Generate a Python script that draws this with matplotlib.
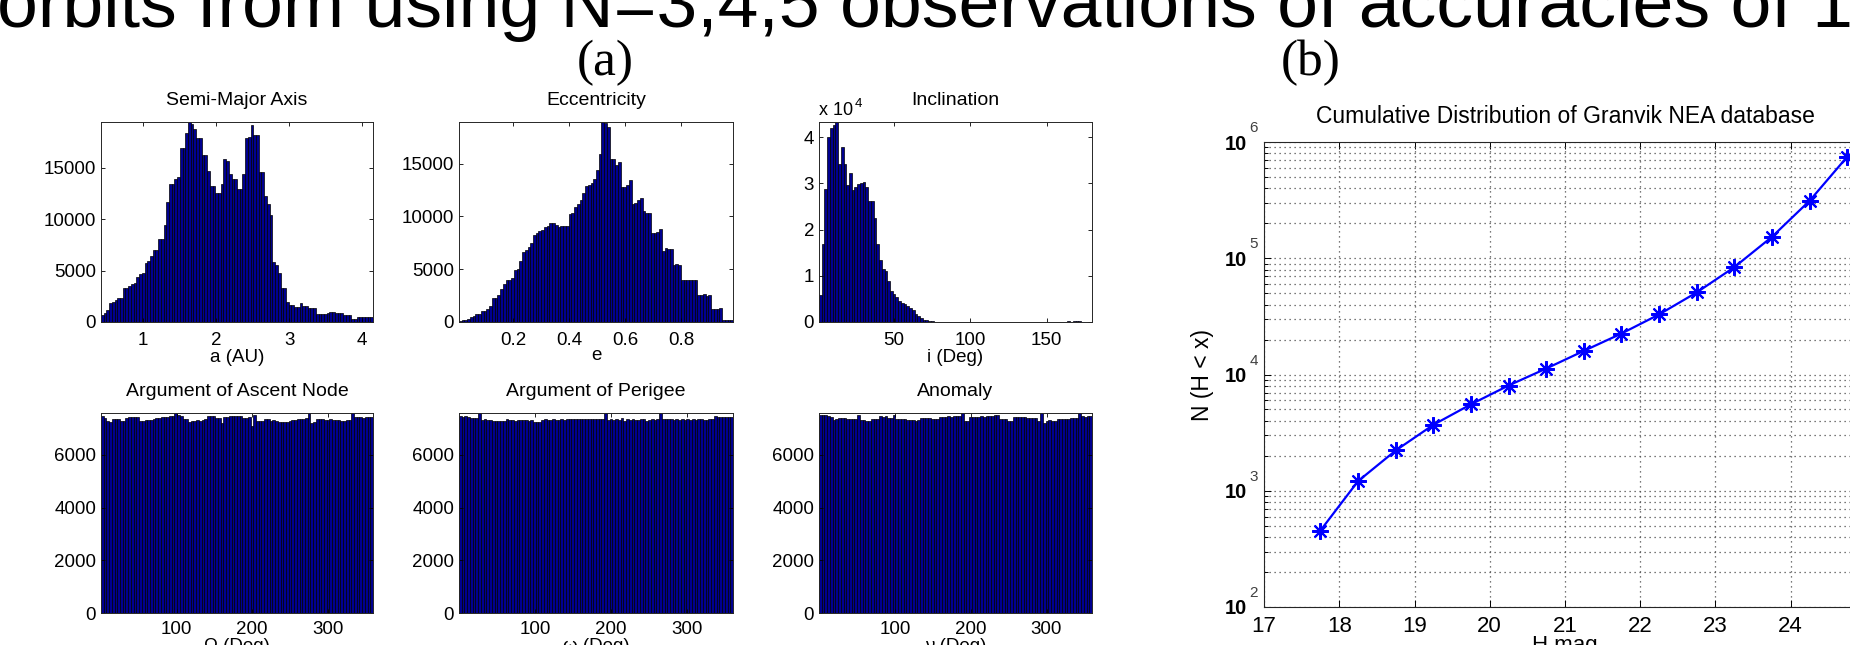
import numpy as np
import matplotlib
matplotlib.use('Agg')
import matplotlib.pyplot as plt
from matplotlib import font_manager as fm
from matplotlib.ticker import LogLocator, NullFormatter

# ---------------- data ----------------
semi_major_range = (0.42, 4.15)
semi_major_counts = [
    710, 900, 1140, 1800, 1900, 2100, 2300, 2300, 3300, 3300,
    3500, 3700, 3800, 4400, 4700, 4800, 5700, 5900, 6400, 7000,
    7000, 8100, 8100, 9400, 11700, 13400, 13400, 13900, 14100, 16900,
    16900, 18400, 19450, 19300, 18800, 17900, 17900, 16200, 16200, 14700,
    13200, 13200, 12500, 12500, 13400, 15900, 15700, 14400, 13900, 13900,
    12900, 12900, 14400, 17900, 18000, 19200, 18200, 18200, 14600, 14600,
    12300, 11500, 10400, 5800, 5500, 4800, 3300, 3300, 1900, 1700,
    1700, 1500, 1500, 1800, 1600, 1600, 1400, 1400, 1400, 780,
    780, 780, 780, 880, 940, 940, 900, 880, 880, 710,
    710, 710, 320, 320, 450, 450, 450, 450, 450, 450]

ecc_range = (0.007, 0.986)
ecc_counts = [
    60, 160, 200, 290, 440, 600, 760, 800, 1000, 1080,
    1270, 1500, 2300, 2300, 2600, 3100, 3560, 3940, 4000, 4200,
    4920, 5050, 5780, 6670, 6800, 7140, 7500, 8250, 8400, 8600,
    8730, 8950, 9100, 9330, 9330, 9200, 8950, 9050, 9050, 9050,
    10200, 10300, 10860, 11200, 11500, 12200, 12900, 13000, 13200, 13500,
    14400, 15900, 18930, 18800, 18500, 15400, 15400, 14900, 15100, 12800,
    12800, 13000, 13400, 11200, 11300, 11500, 11700, 10500, 10300, 10300,
    8400, 8400, 8500, 8800, 6730, 7050, 6900, 6900, 5400, 5460,
    5400, 3940, 3940, 3940, 3940, 3940, 3940, 2600, 2600, 2670,
    2440, 2600, 1240, 1240, 1240, 1330, 220, 220, 220, 220]

inc_range = (0.9, 179.6)
inc_counts = [
    5900, 16800, 28800, 40000, 42000, 42600, 43300, 34200, 37800, 34200,
    29700, 32200, 28600, 29300, 29800, 30000, 30400, 29300, 26300, 26300,
    22500, 16900, 13400, 11400, 11000, 8800, 6700, 6000, 5400, 4500,
    4200, 4000, 3400, 3000, 2500, 1800, 1200, 900, 500, 400,
    200, 150, 80, 50, 30, 20, 10, 10, 5, 5,
    5, 5, 3, 3, 2, 2, 2, 1, 1, 1,
    1, 1, 0, 0, 0, 0, 0, 0, 0, 0,
    0, 0, 0, 0, 0, 0, 0, 0, 0, 0,
    0, 0, 0, 0, 0, 0, 0, 0, 0, 0,
    0, 150, 0, 150, 150, 150, 0, 0, 0, 0]

angle_range = (0.0, 360.0)
node_counts = [
    7470, 7400, 7300, 7250, 7370, 7380, 7360, 7280, 7300, 7410,
    7450, 7440, 7450, 7420, 7300, 7290, 7310, 7340, 7340, 7380,
    7410, 7400, 7420, 7450, 7450, 7470, 7470, 7590, 7500, 7480,
    7370, 7370, 7250, 7300, 7290, 7310, 7300, 7340, 7350, 7470,
    7470, 7460, 7410, 7400, 7220, 7450, 7440, 7470, 7460, 7480,
    7470, 7460, 7410, 7400, 7420, 7100, 7500, 7280, 7290, 7300,
    7370, 7360, 7300, 7310, 7290, 7250, 7260, 7240, 7250, 7270,
    7310, 7320, 7370, 7360, 7380, 7410, 7590, 7220, 7230, 7370,
    7380, 7360, 7340, 7330, 7350, 7340, 7320, 7340, 7300, 7280,
    7310, 7330, 7580, 7430, 7420, 7440, 7410, 7430, 7450, 7440]

perigee_counts = [
    7460, 7450, 7470, 7440, 7400, 7410, 7390, 7590, 7340, 7350,
    7330, 7340, 7300, 7280, 7270, 7290, 7280, 7350, 7330, 7320,
    7300, 7340, 7320, 7310, 7330, 7300, 7340, 7250, 7240, 7260,
    7340, 7350, 7330, 7340, 7360, 7320, 7340, 7350, 7330, 7360,
    7370, 7350, 7360, 7380, 7360, 7370, 7350, 7360, 7380, 7370,
    7360, 7350, 7380, 7590, 7340, 7350, 7330, 7360, 7340, 7390,
    7300, 7380, 7320, 7360, 7310, 7340, 7380, 7350, 7300, 7330,
    7360, 7340, 7380, 7590, 7360, 7350, 7370, 7380, 7340, 7360,
    7330, 7350, 7340, 7360, 7330, 7350, 7340, 7360, 7350, 7340,
    7330, 7360, 7350, 7460, 7440, 7420, 7430, 7450, 7440, 7430]

anomaly_counts = [
    7530, 7520, 7530, 7460, 7450, 7340, 7350, 7400, 7390, 7410,
    7360, 7370, 7350, 7360, 7530, 7340, 7330, 7280, 7290, 7360,
    7350, 7370, 7460, 7450, 7460, 7400, 7410, 7530, 7360, 7370,
    7350, 7360, 7340, 7330, 7340, 7300, 7310, 7400, 7390, 7410,
    7400, 7360, 7370, 7350, 7430, 7420, 7430, 7460, 7450, 7480,
    7470, 7480, 7590, 7280, 7290, 7430, 7420, 7440, 7430, 7460,
    7450, 7460, 7470, 7460, 7530, 7520, 7360, 7370, 7350, 7280,
    7290, 7430, 7420, 7440, 7430, 7420, 7400, 7390, 7410, 7400,
    7280, 7590, 7220, 7300, 7310, 7290, 7300, 7360, 7350, 7370,
    7360, 7350, 7400, 7410, 7390, 7590, 7460, 7450, 7470, 7460]

h_mag = [17.75, 18.25, 18.75, 19.25, 19.75, 20.25, 20.75, 21.25,
         21.75, 22.25, 22.75, 23.25, 23.75, 24.25, 24.75]
n_cum = [455, 1210, 2220, 3690, 5540, 8040, 11250, 15960,
         22500, 32850, 50800, 83800, 152700, 312000, 746000]

# ---------------- figure ----------------
plt.rcParams['font.family'] = ['Liberation Sans', 'DejaVu Sans']
W, Hpx = 1850, 645
fig = plt.figure(figsize=(W / 100, Hpx / 100), dpi=100)


def rect(x0, y0, x1, y1):
    return [x0 / W, 1 - y1 / Hpx, (x1 - x0) / W, (y1 - y0) / Hpx]


BAR_FACE = '#00008F'
GRID_LS = (0, (1.0, 3.0))


def hist_panel(r, counts, rng, title, xlabel, xticks, yticks, yticklabels=None,
               label_y=-0.135, xpad=7.5):
    ax = fig.add_axes(r)
    edges = np.linspace(rng[0], rng[1], len(counts) + 1)
    ax.bar(edges[:-1], counts, width=np.diff(edges), align='edge',
           color=BAR_FACE, edgecolor='black', linewidth=0.5)
    ax.set_xlim(rng[0], rng[1])
    ax.set_ylim(0, max(counts))
    ax.set_xticks(xticks)
    ax.set_yticks(yticks)
    if yticklabels is not None:
        ax.set_yticklabels(yticklabels)
    ax.tick_params(which='both', direction='in', top=True, right=True,
                   length=3, width=0.6, labelsize=13.5)
    ax.tick_params(axis='y', pad=3.5)
    ax.tick_params(axis='x', pad=xpad)
    for s in ax.spines.values():
        s.set_linewidth(0.7)
        s.set_color('0.15')
    ax.set_title(title, fontsize=14, pad=12)
    ax.set_xlabel(xlabel, fontsize=13.5)
    ax.xaxis.set_label_coords(0.5, label_y)
    return ax


cols = [(101, 373), (459, 733), (819, 1092)]
top_row = (122, 322)
bot_row = (413, 613)

hist_panel(rect(cols[0][0], top_row[0], cols[0][1], top_row[1]), semi_major_counts,
           semi_major_range, 'Semi-Major Axis', 'a (AU)', [1, 2, 3, 4],
           [0, 5000, 10000, 15000])
hist_panel(rect(cols[1][0], top_row[0], cols[1][1], top_row[1]), ecc_counts,
           ecc_range, 'Eccentricity', 'e', [0.2, 0.4, 0.6, 0.8],
           [0, 5000, 10000, 15000], label_y=-0.125)
ax_inc = hist_panel(rect(cols[2][0], top_row[0], cols[2][1], top_row[1]), inc_counts,
                    inc_range, 'Inclination', 'i (Deg)', [50, 100, 150],
                    [0, 10000, 20000, 30000, 40000], ['0', '1', '2', '3', '4'])
ax_inc.annotate('x 10', xy=(0, 1), xycoords='axes fraction', xytext=(0, 5),
                textcoords='offset points', ha='left', va='baseline', fontsize=13,
                annotation_clip=False)
ax_inc.annotate('4', xy=(0, 1), xycoords='axes fraction', xytext=(26, 11),
                textcoords='offset points', ha='left', va='baseline', fontsize=9.5,
                annotation_clip=False)

hist_panel(rect(cols[0][0], bot_row[0], cols[0][1], bot_row[1]), node_counts,
           angle_range, 'Argument of Ascent Node', '\u03A9 (Deg)', [100, 200, 300],
           [0, 2000, 4000, 6000], label_y=-0.123, xpad=6)
hist_panel(rect(cols[1][0], bot_row[0], cols[1][1], bot_row[1]), perigee_counts,
           angle_range, 'Argument of Perigee', '\u03C9 (Deg)', [100, 200, 300],
           [0, 2000, 4000, 6000], label_y=-0.123, xpad=6)
hist_panel(rect(cols[2][0], bot_row[0], cols[2][1], bot_row[1]), anomaly_counts,
           angle_range, 'Anomaly', '\u03BD (Deg)', [100, 200, 300],
           [0, 2000, 4000, 6000], label_y=-0.123, xpad=6)

# ---------------- right panel ----------------
axr = fig.add_axes(rect(1264, 142, 1866, 607))
axr.semilogy(h_mag, n_cum, color='#0000FF', linewidth=1.6, marker=(8, 2, 0),
             markersize=12, markeredgewidth=1.5)
axr.set_xlim(17, 25)
axr.set_ylim(1e2, 1e6)
axr.set_xticks(range(17, 26))
decades = [2, 3, 4, 5, 6]
axr.set_yticks([10.0 ** k for k in decades])
axr.set_yticklabels(['10'] * len(decades))
axr.yaxis.set_minor_locator(LogLocator(base=10, subs=np.arange(2, 10)))
axr.yaxis.set_minor_formatter(NullFormatter())
axr.grid(True, which='major', axis='x', linestyle=GRID_LS, color='0.3', linewidth=0.9)
axr.grid(True, which='both', axis='y', linestyle=GRID_LS, color='0.3', linewidth=0.9)
axr.tick_params(which='both', direction='in', top=True, right=True, width=0.7)
axr.tick_params(which='major', length=5)
axr.tick_params(which='minor', length=3)
axr.tick_params(axis='x', labelsize=16, pad=6.5)
axr.tick_params(axis='y', labelsize=14.5, pad=12)
for lab in axr.get_yticklabels():
    lab.set_fontweight('bold')
for s in axr.spines.values():
    s.set_linewidth(0.8)
    s.set_color('0.15')
for k in decades:
    axr.annotate(str(k), xy=(0, 10.0 ** k), xycoords=('axes fraction', 'data'),
                 xytext=(-4.3, 7.2), textcoords='offset points', ha='right',
                 va='baseline', fontsize=11, color='0.25', annotation_clip=False)
axr.set_title('Cumulative Distribution of Granvik NEA database', fontsize=16.5, pad=14)
axr.set_xlabel('H mag', fontsize=16)
axr.xaxis.set_label_coords(0.5, -0.06)
axr.set_ylabel('N (H < x)', fontsize=16.5, va='center')
axr.yaxis.set_label_coords(-(1264 - 1203) / 602, 0.5)

# ---------------- top texts ----------------
avail = {f.name for f in fm.fontManager.ttflist}
narrow = [n for n in ['Liberation Sans Narrow', 'Arial Narrow', 'DejaVu Sans Condensed']
          if n in avail]
tfam = narrow[0] if narrow else 'Liberation Sans'
big = fig.text(-3 / W, 1 - 27 / Hpx,
               'orbits from using N=3,4,5 observations of accuracies of 1',
               fontsize=60, family=[tfam, 'DejaVu Sans'], ha='left', va='baseline')
fig.canvas.draw()
wbig = big.get_window_extent().width
big.set_fontsize(60 * 1855 / wbig)

fig.text(605 / W, 1 - 75 / Hpx, '(a)', family=['Liberation Serif', 'DejaVu Serif'],
         fontsize=37, ha='center', va='baseline')
fig.text(1311 / W, 1 - 75 / Hpx, '(b)', family=['Liberation Serif', 'DejaVu Serif'],
         fontsize=37, ha='center', va='baseline')

fig.savefig('out.png', dpi=100)
